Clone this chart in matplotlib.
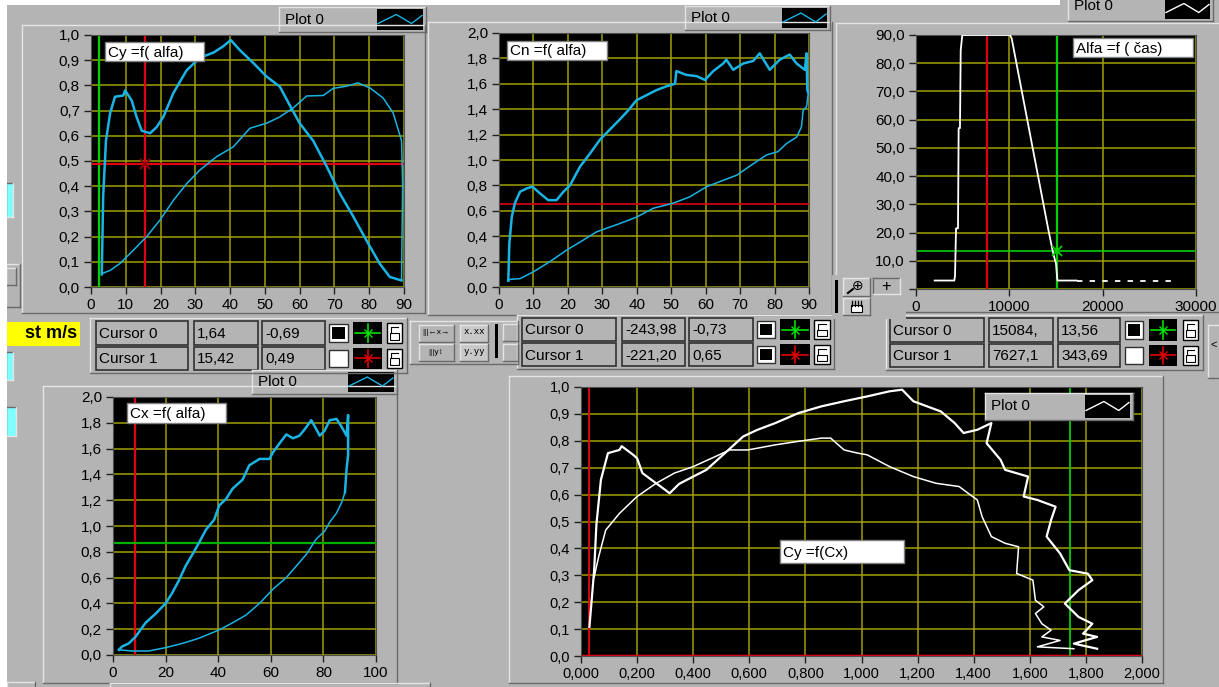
import matplotlib.pyplot as plt
from matplotlib.patches import Rectangle
from matplotlib.ticker import FuncFormatter, MultipleLocator

plt.rcParams['font.family'] = ['Liberation Sans', 'DejaVu Sans']

W, H = 1219, 687
BG = '#b4b4b4'
GRID = '#a0a000'
CYAN = '#1ab4e4'

# --- Cy = f(alfa) ---
cy_up_alfa = [3.1, 3.5, 4.3, 5.5, 6.9, 9.3, 9.8, 11.7, 13.1, 14.6, 17.0, 18.9, 20.8, 23.7, 27.5, 31.3, 35.2,
              38.0, 40.2, 42.8, 46.6, 50.5, 54.3, 57.2, 60.0, 63.9, 67.7, 71.6, 75.4, 79.2, 83.0, 85.9, 89.3]
cy_up_val = [0.05, 0.36, 0.58, 0.69, 0.755, 0.76, 0.78, 0.74, 0.675, 0.62, 0.61, 0.635, 0.675, 0.77, 0.86, 0.91,
             0.93, 0.955, 0.98, 0.94, 0.89, 0.835, 0.795, 0.72, 0.65, 0.58, 0.48, 0.37, 0.28, 0.185, 0.093, 0.04, 0.026]
cy_dn_alfa = [89.3, 89.6, 89.3, 86.9, 84.0, 80.2, 76.8, 73.5, 69.6, 66.8, 62.0, 58.1, 54.3, 50.5, 45.7, 40.9,
              36.1, 31.3, 27.5, 23.7, 19.8, 16.0, 12.2, 8.3, 5.5, 3.1]
cy_dn_val = [0.026, 0.41, 0.58, 0.69, 0.75, 0.79, 0.81, 0.797, 0.788, 0.76, 0.758, 0.71, 0.675, 0.65, 0.63, 0.556,
             0.517, 0.464, 0.41, 0.344, 0.265, 0.2, 0.146, 0.093, 0.066, 0.053]

# --- Cn = f(alfa) ---
cn_up_alfa = [2.7, 3.0, 3.7, 4.6, 6.1, 8.0, 9.7, 11.9, 14.3, 16.7, 18.7, 20.6, 23.5, 26.4, 29.3, 32.2, 35.1, 37.5,
              39.9, 42.8, 45.7, 48.6, 51.1, 51.5, 54.4, 57.4, 59.8, 62.2, 65.1, 66.0, 68.0, 70.9, 73.8, 75.7, 78.6,
              81.5, 84.4, 86.4, 88.8, 89.3, 89.5, 89.8]
cn_up_val = [0.05, 0.34, 0.55, 0.66, 0.75, 0.776, 0.79, 0.737, 0.684, 0.684, 0.75, 0.8, 0.947, 1.05, 1.16, 1.24,
             1.32, 1.39, 1.47, 1.51, 1.55, 1.58, 1.6, 1.7, 1.67, 1.66, 1.63, 1.7, 1.76, 1.79, 1.71, 1.76, 1.78, 1.84,
             1.71, 1.79, 1.83, 1.76, 1.71, 1.84, 1.55, 1.53]
cn_dn_alfa = [89.8, 89.3, 88.3, 87.8, 86.4, 83.5, 81.0, 77.7, 73.8, 69.0, 65.1, 60.3, 55.4, 50.6, 44.8, 39.9, 35.1,
              28.3, 24.5, 19.6, 14.8, 10.0, 6.1, 3.2, 2.7]
cn_dn_val = [1.53, 1.42, 1.39, 1.26, 1.18, 1.13, 1.066, 1.04, 0.97, 0.88, 0.84, 0.79, 0.71, 0.66, 0.62, 0.55, 0.5,
             0.434, 0.37, 0.29, 0.2, 0.12, 0.066, 0.06, 0.05]

# --- Alfa = f(cas) ---
cas_t = [2000, 4100, 4180, 4290, 4500, 4570, 4710, 4790, 4960, 10070, 10250, 14180, 14700, 15000, 15150, 17200, 28000]
cas_alfa = [3.0, 3.0, 4.5, 21.5, 21.5, 57.0, 57.0, 84.6, 90.0, 90.0, 88.8, 21.0, 12.6, 9.0, 3.0, 3.0, 3.0]

# --- Cx = f(alfa) ---
cx_up_alfa = [2.2, 3.4, 6.0, 8.5, 12.4, 16.2, 20.0, 22.5, 25.1, 27.6, 30.2, 32.7, 35.3, 38.5, 40.4, 43.0, 45.5,
              49.3, 51.8, 55.7, 59.5, 60.8, 63.3, 65.9, 68.4, 70.9, 72.9, 75.4, 77.3, 78.6, 80.5, 82.4, 85.0, 86.9,
              88.8, 89.4, 89.4, 88.8, 88.2]
cx_up_val = [0.04, 0.065, 0.09, 0.14, 0.25, 0.32, 0.4, 0.48, 0.58, 0.69, 0.78, 0.87, 0.97, 1.05, 1.16, 1.21, 1.29,
             1.36, 1.47, 1.52, 1.52, 1.57, 1.64, 1.71, 1.68, 1.70, 1.75, 1.82, 1.75, 1.70, 1.74, 1.82, 1.83, 1.77,
             1.70, 1.86, 1.55, 1.44, 1.26]
cx_dn_alfa = [88.2, 86.9, 85.0, 82.4, 80.5, 77.3, 73.5, 69.7, 65.9, 60.8, 55.7, 50.6, 45.5, 40.4, 32.7, 26.4, 20.0,
              13.6, 7.3, 2.2]
cx_dn_val = [1.26, 1.18, 1.10, 1.03, 0.96, 0.9, 0.78, 0.69, 0.6, 0.51, 0.4, 0.31, 0.25, 0.195, 0.13, 0.09, 0.057,
             0.031, 0.031, 0.04]

# --- Cy = f(Cx) ---
pol_a_cx = [0.030, 0.039, 0.047, 0.055, 0.071, 0.096, 0.137, 0.145, 0.186, 0.200, 0.219, 0.251, 0.284, 0.316,
            0.350, 0.400, 0.447, 0.513, 0.578, 0.627, 0.693, 0.775, 0.857, 0.938, 1.020, 1.100, 1.145, 1.185,
            1.234, 1.283, 1.332, 1.364, 1.413, 1.463, 1.446, 1.496, 1.512, 1.594, 1.578, 1.627, 1.692, 1.676,
            1.660, 1.708, 1.741, 1.807, 1.823, 1.774, 1.725, 1.774, 1.823, 1.790, 1.840, 1.757, 1.840]
pol_a_cy = [0.108, 0.22, 0.32, 0.49, 0.655, 0.754, 0.766, 0.78, 0.748, 0.735, 0.68, 0.655, 0.63, 0.605, 0.64,
            0.667, 0.692, 0.754, 0.816, 0.84, 0.866, 0.903, 0.928, 0.947, 0.965, 0.984, 0.99, 0.947, 0.928, 0.909,
            0.866, 0.829, 0.841, 0.866, 0.791, 0.729, 0.692, 0.667, 0.593, 0.58, 0.555, 0.506, 0.444, 0.381,
            0.319, 0.306, 0.282, 0.245, 0.195, 0.145, 0.12, 0.083, 0.071, 0.046, 0.027]
pol_b_cx = [0.047, 0.063, 0.088, 0.137, 0.200, 0.268, 0.333, 0.400, 0.480, 0.530, 0.595, 0.693, 0.775, 0.857,
            0.890, 0.938, 0.987, 1.020, 1.100, 1.185, 1.266, 1.348, 1.380, 1.413, 1.430, 1.463, 1.512, 1.560,
            1.553, 1.611, 1.620, 1.650, 1.620, 1.643, 1.676, 1.643, 1.708, 1.627, 1.757]
pol_b_cy = [0.294, 0.369, 0.468, 0.53, 0.593, 0.642, 0.68, 0.704, 0.742, 0.766, 0.766, 0.785, 0.798, 0.81, 0.81,
            0.766, 0.754, 0.748, 0.704, 0.667, 0.642, 0.63, 0.605, 0.58, 0.518, 0.444, 0.419, 0.406, 0.307,
            0.282, 0.207, 0.183, 0.158, 0.12, 0.096, 0.071, 0.058, 0.034, 0.027]

# cursor readouts
cur_rows1 = [('Cursor 0', '1,64', '-0,69'), ('Cursor 1', '15,42', '0,49')]
cur_rows2 = [('Cursor 0', '-243,98', '-0,73'), ('Cursor 1', '-221,20', '0,65')]
cur_rows3 = [('Cursor 0', '15084,', '13,56'), ('Cursor 1', '7627,1', '343,69')]

fig = plt.figure(figsize=(W / 100, H / 100), dpi=100)
fig.patch.set_facecolor(BG)


def overlay(z):
    a = fig.add_axes([0, 0, 1, 1], zorder=z)
    a.set_xlim(0, W)
    a.set_ylim(H, 0)
    a.axis('off')
    a.patch.set_alpha(0)
    return a


bg = overlay(-5)
top = overlay(10)


def rect(ax, x0, y0, x1, y1, fc, ec='none', lw=1.0):
    p = Rectangle((x0, y0), x1 - x0, y1 - y0, fc=fc, ec=ec, lw=lw)
    ax.add_patch(p)
    return p


def frame(ax, x0, y0, x1, y1, sunken=False, fc=None):
    light, dark = ('#6a6a6a', '#e4e4e4') if sunken else ('#e4e4e4', '#6a6a6a')
    if fc:
        rect(ax, x0, y0, x1, y1, fc)
    ax.plot([x0, x1], [y0, y0], color=light, lw=1)
    ax.plot([x0, x0], [y0, y1], color=light, lw=1)
    ax.plot([x0, x1], [y1, y1], color=dark, lw=1)
    ax.plot([x1, x1], [y0, y1], color=dark, lw=1)


def field(ax, x0, y0, x1, y1, txt):
    p = rect(ax, x0, y0, x1, y1, BG, ec='#303030', lw=1.2)
    t = ax.text(x0 + 3, (y0 + y1) / 2 + 1, txt, fontsize=11, va='center', ha='left', color='black')
    t.set_clip_path(p)


def crossbox(ax, x0, y0, x1, y1, col):
    rect(ax, x0, y0, x1, y1, 'black')
    cx, cyy = (x0 + x1) / 2, (y0 + y1) / 2
    ax.plot([x0 + 2, x1 - 2], [cyy, cyy], color=col, lw=1.2)
    ax.plot([cx, cx], [y0 + 2, y1 - 2], color=col, lw=1.2)
    ax.plot([cx], [cyy], marker='x', color=col, ms=6, mew=1)


def lock(ax, x0, y0, x1, y1):
    rect(ax, x0, y0, x1, y1, 'white', ec='black', lw=1)
    rect(ax, x0 + 3, (y0 + y1) / 2, x1 - 3, y1 - 3, 'white', ec='black', lw=0.8)
    ax.plot([x0 + 4, x0 + 4, x1 - 4], [(y0 + y1) / 2, y0 + 4, y0 + 4], color='black', lw=0.8)


def cursor_panel(ax, x0, y0, x1, y1, cols, rows, squares):
    frame(ax, x0, y0, x1, y1)
    hh = (y1 - y0 - 8) / 2
    for i, (name, v1, v2) in enumerate(rows):
        ya = y0 + 3 + i * (hh + 2)
        yb = ya + hh
        field(ax, cols[0], ya, cols[1], yb, name)
        field(ax, cols[2], ya, cols[3], yb, v1)
        field(ax, cols[4], ya, cols[5], yb, v2)
        rect(ax, cols[6], ya + 3, cols[7], yb - 3, 'white', ec='#303030', lw=1)
        if squares[i]:
            rect(ax, cols[6] + 3, ya + 6, cols[7] - 3, yb - 6, 'black')
        crossbox(ax, cols[8], ya + 1, cols[9], yb - 1, '#00e000' if i == 0 else '#e00000')
        lock(ax, cols[10], ya + 2, cols[11], yb - 2)


def legend_box(ax, x0, y0, x1, y1, sx0, col, ty=None):
    frame(ax, x0, y0, x1, y1, fc=BG)
    ax.text(x0 + 6, (y0 + y1) / 2 if ty is None else ty, 'Plot 0', fontsize=11, va='center', ha='left')
    rect(ax, sx0, y0 + 2, x1 - 3, y1 - 2, 'black')
    w = x1 - 3 - sx0
    ym = (y0 + y1) / 2
    ax.plot([sx0 + 1, sx0 + w * 0.42, sx0 + w * 0.75, x1 - 4], [ym + 4, ym - 5, ym + 4, ym - 4], color=col, lw=1)


def label_box(ax, x0, y0, x1, y1, txt):
    rect(ax, x0, y0, x1, y1, 'white', ec='#808080', lw=1)
    ax.text(x0 + 3, (y0 + y1) / 2 + 1, txt, fontsize=11, va='center', ha='left')


def comma(d, skip_zero=False):
    def f(v, p):
        if skip_zero and abs(v) < 1e-9:
            return ''
        return f'{v:.{d}f}'.replace('.', ',')
    return FuncFormatter(f)


def plot_axes(x0, y0, x1, y1, xlim, ylim, xstep, ystep, xd, yd):
    ax = fig.add_axes([x0 / W, 1 - y1 / H, (x1 - x0) / W, (y1 - y0) / H], zorder=1)
    ax.set_facecolor('black')
    ax.set_xlim(*xlim)
    ax.set_ylim(*ylim)
    ax.xaxis.set_major_locator(MultipleLocator(xstep))
    ax.yaxis.set_major_locator(MultipleLocator(ystep))
    ax.xaxis.set_major_formatter(comma(xd))
    ax.yaxis.set_major_formatter(comma(yd))
    ax.grid(True, color=GRID, lw=1.1)
    ax.set_axisbelow(True)
    ax.tick_params(direction='out', length=5, width=1, color='#202020', labelsize=11, pad=3)
    for s in ax.spines.values():
        s.set_color('#505050')
    return ax


# background decorations
frame(bg, 22, 25, 425, 313)
frame(bg, 428, 22, 832, 315)
frame(bg, 836, 23, 1225, 312)
frame(bg, 43, 386, 397, 683)
frame(bg, 509, 376, 1163, 683)
legend_box(bg, 279, 7, 426, 32, 377, CYAN)
legend_box(bg, 685, 6, 830, 30, 782, CYAN)
legend_box(bg, 1068, -4, 1213, 21, 1165, 'white', ty=6)
legend_box(bg, 252, 370, 397, 394, 348, CYAN)

cursor_panel(bg, 90, 318, 407, 373, [96, 188, 194, 258, 262, 325, 329, 348, 353, 382, 387, 402], cur_rows1,
             [True, False])
cursor_panel(bg, 517, 315, 834, 369, [522, 616, 622, 685, 689, 753, 757, 775, 780, 810, 814, 830], cur_rows2,
             [True, True])
cursor_panel(bg, 886, 315, 1203, 370, [890, 984, 989, 1053, 1058, 1120, 1125, 1143, 1149, 1177, 1183, 1198],
             cur_rows3, [True, False])

# middle tool widgets
frame(bg, 410, 321, 518, 364, fc=BG)
frame(bg, 419, 325, 454, 342)
frame(bg, 419, 344, 454, 361)
bg.text(436, 333, '|||←x→', fontsize=6, ha='center', va='center')
bg.text(436, 352, '|||y↕', fontsize=6, ha='center', va='center')
frame(bg, 460, 325, 488, 342, fc='#c8c8c8')
frame(bg, 460, 344, 488, 361, fc='#c8c8c8')
bg.text(474, 332, 'x.xx', fontsize=6.5, ha='center', va='center', family='DejaVu Sans Mono')
bg.text(474, 351, 'y.yy', fontsize=6.5, ha='center', va='center', family='DejaVu Sans Mono')
rect(bg, 495, 324, 498, 358, 'black')
frame(bg, 503, 324, 518, 341)
frame(bg, 503, 344, 518, 361)

# left side controls
rect(bg, 7, 322, 80, 346, '#ffff00')
bg.text(77, 334, 'st m/s', fontsize=13, fontweight='bold', ha='right', va='center')
frame(bg, 6, 183, 13, 217, sunken=True, fc='#80ffff')
frame(bg, 6, 352, 13, 380, sunken=True, fc='#80ffff')
frame(bg, 6, 407, 16, 436, sunken=True, fc='#80ffff')
frame(bg, 6, 264, 20, 307)
frame(bg, 6, 268, 16, 285)
frame(bg, 1208, 325, 1225, 378)
bg.text(1214, 345, '<', fontsize=8, ha='center', va='center')
frame(bg, 7, 682, 35, 690)
frame(bg, 110, 683, 430, 690)

# --- panel 1: Cy = f(alfa)
ax1 = plot_axes(91, 35, 404, 287, (0, 90), (0, 1.0), 10, 0.1, 0, 1)
ax1.axvline(2.2, color='#00d000', lw=1.6, zorder=2)
ax1.axvline(15.42, color='#e00010', lw=1.6, zorder=2)
ax1.axhline(0.49, color='#e00010', lw=1.6, zorder=2)
ax1.plot(cy_up_alfa, cy_up_val, color=CYAN, lw=1.8, zorder=3)
ax1.plot(cy_dn_alfa, cy_dn_val, color=CYAN, lw=1.1, zorder=3)
ax1.plot([15.42], [0.49], marker='x', color='#900000', ms=7, mew=1.5, zorder=4)

# --- panel 2: Cn = f(alfa)
ax2 = plot_axes(499, 33, 809, 287, (0, 90), (0, 2.0), 10, 0.2, 0, 1)
ax2.axhline(0.65, color='#e00010', lw=1.2, zorder=2)
ax2.plot(cn_up_alfa, cn_up_val, color=CYAN, lw=1.8, zorder=3)
ax2.plot(cn_dn_alfa, cn_dn_val, color=CYAN, lw=1.1, zorder=3)

# --- panel 3: Alfa = f(cas)  (0,0 label sits under the zoom tools)
ax3 = plot_axes(916, 35, 1196, 289, (0, 30000), (0, 90), 10000, 10, 0, 1)
ax3.xaxis.set_major_formatter(FuncFormatter(lambda v, p: f'{v:.0f}'))
ax3.yaxis.set_major_formatter(comma(1, skip_zero=True))
ax3.axvline(7627, color='#e00010', lw=1.6, zorder=2)
ax3.axvline(15084, color='#00d000', lw=1.6, zorder=2)
ax3.axhline(13.56, color='#00d000', lw=1.2, zorder=2)
ax3.plot(cas_t[:16], cas_alfa[:16], color='white', lw=1.3, zorder=3)
ax3.plot(cas_t[15:], cas_alfa[15:], color='white', lw=1.3, ls=(0, (3, 4)), zorder=3)
ax3.plot([15084], [13.56], marker='x', color='#00d000', ms=7, mew=1.3, zorder=4)

# --- panel 4: Cx = f(alfa)
ax4 = plot_axes(113, 397, 376, 655, (0, 100), (0, 2.0), 20, 0.2, 0, 1)
ax4.axvline(8.5, color='#e00010', lw=1.6, zorder=2)
ax4.axhline(0.865, color='#00b000', lw=1.6, zorder=2)
ax4.plot(cx_up_alfa, cx_up_val, color=CYAN, lw=1.8, zorder=3)
ax4.plot(cx_dn_alfa, cx_dn_val, color=CYAN, lw=1.1, zorder=3)

# --- panel 5: Cy = f(Cx)
ax5 = plot_axes(581, 387, 1142, 656, (0, 2.0), (0, 1.0), 0.2, 0.1, 3, 1)
ax5.tick_params(labelsize=10.5)
ax5.axvline(0.027, color='#e00010', lw=1.4, zorder=2)
ax5.axhline(0.0, color='#e00010', lw=2.5, zorder=2)
ax5.axvline(1.744, color='#00d000', lw=1.3, zorder=2)
ax5.plot(pol_a_cx, pol_a_cy, color='white', lw=1.6, zorder=3)
ax5.plot(pol_b_cx, pol_b_cy, color='white', lw=1.1, zorder=3)

# overlays: label boxes and tool widgets
label_box(top, 105, 42, 204, 61, 'Cy =f( alfa)')
label_box(top, 507, 41, 607, 60, 'Cn =f( alfa)')
label_box(top, 1073, 38, 1193, 57, 'Alfa =f ( čas)')
label_box(top, 127, 403, 226, 423, 'Cx =f( alfa)')
label_box(top, 780, 540, 904, 563, 'Cy =f(Cx)')
legend_box(top, 985, 393, 1133, 420, 1085, 'white')

rect(top, 832, 275, 906, 319, BG)
rect(top, 835, 280, 838, 313, 'black')
frame(top, 843, 278, 870, 296, fc='#c0c0c0')
top.text(858, 286, '⊕', fontsize=10, ha='center', va='center')
top.plot([848, 853], [293, 289], color='black', lw=1.5)
frame(top, 873, 278, 900, 294, sunken=True, fc=BG)
top.text(886, 286, '+', fontsize=12, ha='center', va='center')
frame(top, 843, 298, 870, 315, fc='#c0c0c0')
# hand tool drawn as a little glyph (no installed font has it)
rect(top, 851, 305, 862, 312, 'white', ec='black', lw=0.8)
for fx in (852, 855, 858, 861):
    top.plot([fx, fx], [301, 306], color='black', lw=0.9)

rect(top, 0, 0, 7, H, 'white')
rect(top, 0, 0, 1060, 5, 'white')

fig.savefig('out.png', dpi=100, facecolor=BG)
